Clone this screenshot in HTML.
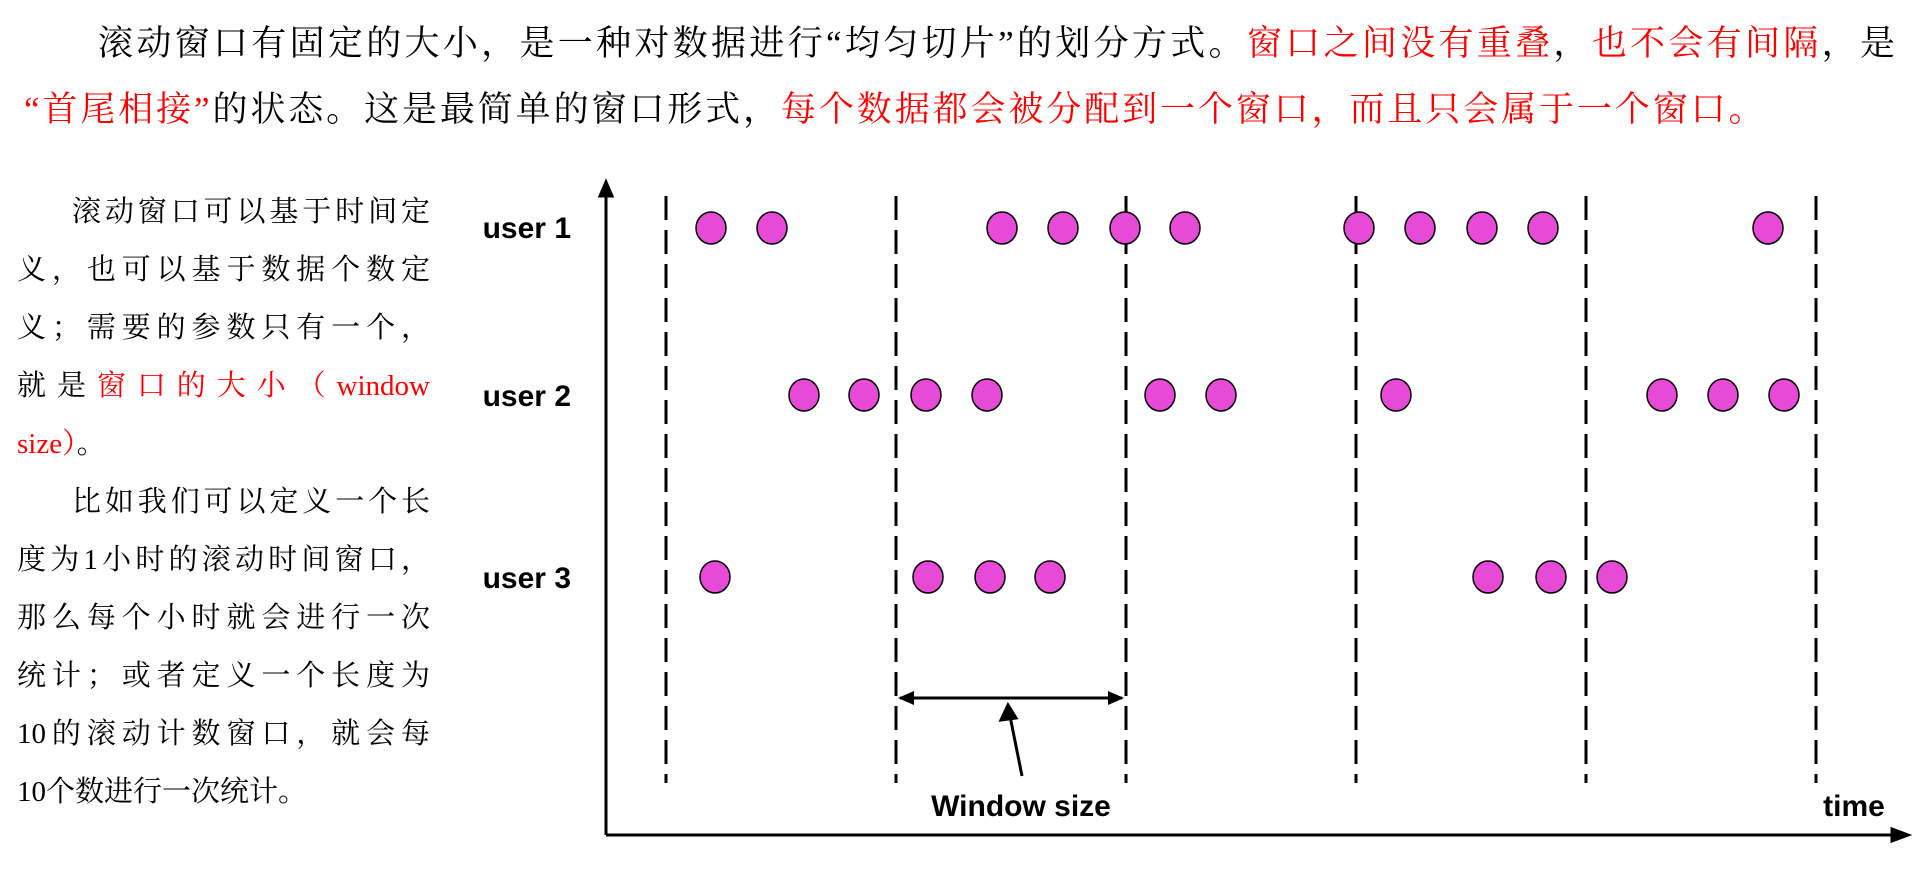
<!DOCTYPE html>
<html><head><meta charset="utf-8"><style>
html,body{margin:0;padding:0;background:#fff;width:1916px;height:871px;overflow:hidden;position:relative}
.t{position:absolute;font-family:"Liberation Serif","Noto Serif CJK SC",serif;white-space:nowrap;color:#000}
.r{color:#ff0000}
.j{text-align:justify;text-align-last:justify;white-space:normal}
.l{position:absolute;left:17px;width:413px;font-family:"Liberation Serif","Noto Serif CJK SC",serif;font-size:29px;line-height:36px;height:36px;overflow:visible}
svg{position:absolute;left:0;top:0}
</style></head><body>
<div class="t j" style="left:98px;top:22px;width:1797px;font-size:35px;line-height:44px">滚动窗口有固定的大小，是一种对数据进行“均匀切片”的划分方式。<span class="r">窗口之间没有重叠</span>，<span class="r">也不会有间隔</span>，是</div>
<div class="t" style="left:24px;top:88px;font-size:35px;line-height:44px;letter-spacing:2.9px"><span class="r">“首尾相接”</span>的状态。这是最简单的窗口形式，<span class="r">每个数据都会被分配到一个窗口，而且只会属于一个窗口。</span></div>

<div class="l j" style="top:194px;padding-left:55px;width:358px">滚动窗口可以基于时间定</div>
<div class="l j" style="top:252px">义，也可以基于数据个数定</div>
<div class="l j" style="top:310px">义；需要的参数只有一个，</div>
<div class="l j" style="top:368px">就是<span class="r">窗口的大小（window</span></div>
<div class="l" style="top:426px"><span class="r">size）</span>。</div>
<div class="l j" style="top:484px;padding-left:55px;width:358px">比如我们可以定义一个长</div>
<div class="l j" style="top:542px">度为1小时的滚动时间窗口，</div>
<div class="l j" style="top:600px">那么每个小时就会进行一次</div>
<div class="l j" style="top:658px">统计；或者定义一个长度为</div>
<div class="l j" style="top:716px">10的滚动计数窗口，就会每</div>
<div class="l" style="top:774px">10个数进行一次统计。</div>

<svg width="1916" height="871" viewBox="0 0 1916 871">
<defs>
<marker id="b" markerWidth="16" markerHeight="16" refX="14" refY="8" orient="auto-start-reverse" markerUnits="userSpaceOnUse"><path d="M0,1 L16,8 L0,15 z" fill="#000"/></marker>
</defs>
<g stroke="#000" stroke-width="3" fill="none">
<line x1="606" y1="835" x2="606" y2="188"/>
<path d="M600,196 L606,182 L612,196 z" fill="#000"/>
<line x1="606" y1="835" x2="1900" y2="835"/>
<path d="M1892,829 L1908,835 L1892,841 z" fill="#000"/>
<g stroke-dasharray="24,10">
<line x1="666" y1="196" x2="666" y2="783"/>
<line x1="896" y1="196" x2="896" y2="783"/>
<line x1="1126" y1="196" x2="1126" y2="783"/>
<line x1="1356" y1="196" x2="1356" y2="783"/>
<line x1="1586" y1="196" x2="1586" y2="783"/>
<line x1="1816" y1="196" x2="1816" y2="783"/>
</g>
<line x1="900" y1="698" x2="1122" y2="698" marker-start="url(#b)" marker-end="url(#b)"/>
<line x1="1022" y1="776" x2="1010" y2="716"/>
<path d="M1001,720 L1008,705 L1016,718 z" fill="#000"/>
</g>
<g fill="#e64ad6" stroke="#000" stroke-width="1.5">
<g transform="translate(0,228)">
<ellipse cx="711" rx="15" ry="16"/><ellipse cx="772" rx="15" ry="16"/><ellipse cx="1002" rx="15" ry="16"/><ellipse cx="1063" rx="15" ry="16"/><ellipse cx="1125" rx="15" ry="16"/><ellipse cx="1185" rx="15" ry="16"/><ellipse cx="1359" rx="15" ry="16"/><ellipse cx="1420" rx="15" ry="16"/><ellipse cx="1482" rx="15" ry="16"/><ellipse cx="1543" rx="15" ry="16"/><ellipse cx="1768" rx="15" ry="16"/>
</g>
<g transform="translate(0,395)">
<ellipse cx="804" rx="15" ry="16"/><ellipse cx="864" rx="15" ry="16"/><ellipse cx="926" rx="15" ry="16"/><ellipse cx="987" rx="15" ry="16"/><ellipse cx="1160" rx="15" ry="16"/><ellipse cx="1221" rx="15" ry="16"/><ellipse cx="1396" rx="15" ry="16"/><ellipse cx="1662" rx="15" ry="16"/><ellipse cx="1723" rx="15" ry="16"/><ellipse cx="1784" rx="15" ry="16"/>
</g>
<g transform="translate(0,577)">
<ellipse cx="715" rx="15" ry="16"/><ellipse cx="928" rx="15" ry="16"/><ellipse cx="990" rx="15" ry="16"/><ellipse cx="1050" rx="15" ry="16"/><ellipse cx="1488" rx="15" ry="16"/><ellipse cx="1551" rx="15" ry="16"/><ellipse cx="1612" rx="15" ry="16"/>
</g>
</g>
<g font-family="Liberation Sans, sans-serif" font-weight="bold" font-size="30" fill="#000">
<text x="571" y="238" text-anchor="end">user 1</text>
<text x="571" y="406" text-anchor="end">user 2</text>
<text x="571" y="588" text-anchor="end">user 3</text>
<text x="1021" y="816" text-anchor="middle">Window size</text>
<text x="1854" y="816" text-anchor="middle">time</text>
</g>
</svg>
</body></html>
